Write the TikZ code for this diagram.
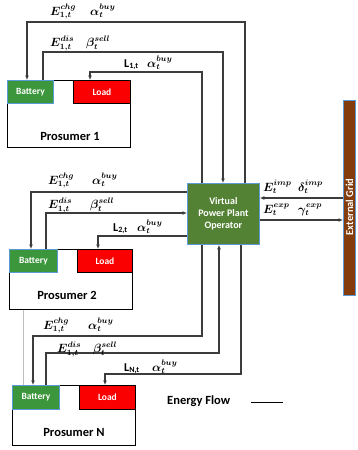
\documentclass[tikz,border=0pt]{standalone}
\usepackage{fontspec}
\setmainfont{Carlito}
\usepackage{amsmath,bm}
\usetikzlibrary{arrows.meta}
\definecolor{battgreen}{RGB}{60,150,60}
\definecolor{loadred}{RGB}{250,0,0}
\definecolor{vppgreen}{RGB}{84,130,53}
\definecolor{gridbrown}{RGB}{132,60,12}
\definecolor{edgeblue}{RGB}{91,155,213}
\definecolor{linegray}{RGB}{60,60,60}
\begin{document}
\begin{tikzpicture}[x=1pt,y=-1pt,
  prosbox/.style={draw=black,line width=1pt,anchor=north west,inner sep=0pt,fill=white},
  battbox/.style={draw=edgeblue,line width=0.8pt,fill=battgreen,anchor=north west,inner sep=0pt,text=white,font=\fontsize{9.5}{10}\selectfont\bfseries},
  loadbox/.style={draw=black,line width=0.8pt,fill=loadred,anchor=north west,inner sep=0pt,text=white,font=\fontsize{9.5}{10}\selectfont\bfseries},
  prosname/.style={font=\fontsize{12.5}{13}\selectfont\bfseries,inner sep=0pt},
  flow/.style={draw=linegray,line width=1.1pt},
  arr/.style={-{Latex[length=4.5pt,width=4pt]}},
  lab/.style={anchor=base west,inner sep=0pt,font=\fontsize{12}{12}\selectfont\boldmath}]
\useasboundingbox (0,0) rectangle (358,450);

% Prosumer boxes
\node[prosbox,minimum width=123pt,minimum height=67pt] (p1) at (7,80) {};
\node[battbox,minimum width=46pt,minimum height=23pt] (b1) at (7,80) {Battery};
\node[loadbox,minimum width=57pt,minimum height=23pt] (l1) at (73,80) {Load};
\node[prosname] (n1) at (70,136) {Prosumer 1};

\node[prosbox,minimum width=123pt,minimum height=60pt] (p2) at (9,249) {};
\node[battbox,minimum width=48pt,minimum height=23pt] (b2) at (9,249) {Battery};
\node[loadbox,minimum width=55pt,minimum height=23pt] (l2) at (77,249) {Load};
\node[prosname] (n2) at (67,295) {Prosumer 2};

\node[prosbox,minimum width=123pt,minimum height=60pt] (pN) at (12,385) {};
\node[battbox,minimum width=47pt,minimum height=24pt] (bN) at (12,385) {Battery};
\node[loadbox,minimum width=56pt,minimum height=24pt] (lN) at (79,385) {Load};
\node[prosname] (nN) at (74,432) {Prosumer N};

% VPP and grid
\node[draw=edgeblue,line width=0.8pt,fill=vppgreen,anchor=north west,inner sep=0pt,
  minimum width=72pt,minimum height=61pt,text=white,align=center,
  font=\fontsize{10}{12}\selectfont\bfseries] (vpp) at (187,183) {Virtual\\Power Plant\\Operator};
\node[draw=edgeblue,line width=0.8pt,fill=gridbrown,anchor=north west,inner sep=0pt,
  minimum width=12pt,minimum height=195pt] (grid) at (343,100) {};
\node[rotate=90,text=white,font=\fontsize{10.5}{11}\selectfont\bfseries,inner sep=0pt] (gridtxt) at (349.5,207) {External Grid};

% bend coordinates
\coordinate (c1a) at (245,22); \coordinate (c1b) at (27,22);
\coordinate (c2a) at (43,52);  \coordinate (c2b) at (223,52);
\coordinate (c3a) at (202,72); \coordinate (c3b) at (90,72);
\coordinate (d1) at (31,192);
\coordinate (d2a) at (46,213);
\coordinate (d3) at (98,236);
\coordinate (e1a) at (202,336); \coordinate (e1b) at (33,336);
\coordinate (e2a) at (46,353);  \coordinate (e2b) at (219,353);
\coordinate (e3a) at (241,374); \coordinate (e3b) at (105,374);
\coordinate (g1) at (0,198); \coordinate (g2) at (0,220);
\coordinate (gl) at (23,0);

% Prosumer 1 flows
\draw[flow,arr] (vpp.north -| c1a) -- (c1a) -- (c1b) -- (b1.north -| c1b);
\draw[flow,arr] (b1.north -| c2a) -- (c2a) -- (c2b) -- (vpp.north -| c2b);
\draw[flow,arr] (vpp.north -| c3a) -- (c3a) -- (c3b) -- (l1.north -| c3b);

% Prosumer 2 flows
\draw[flow,arr] (vpp.west |- d1) -- (d1) -- (b2.north -| d1);
\draw[flow,arr] (b2.north -| d2a) -- (d2a) -- (vpp.west |- d2a);
\draw[flow,arr] (vpp.west |- d3) -- (d3) -- (l2.north -| d3);

% Prosumer N flows
\draw[flow,arr] (vpp.south -| e1a) -- (e1a) -- (e1b) -- (bN.north -| e1b);
\draw[flow,arr] (bN.north -| e2a) -- (e2a) -- (e2b) -- (vpp.south -| e2b);
\draw[flow,arr] (vpp.south -| e3a) -- (e3a) -- (e3b) -- (lN.north -| e3b);

% Grid flows
\draw[flow,arr] (grid.west |- g1) -- (vpp.east |- g1);
\draw[flow,arr] (vpp.east |- g2) -- (grid.west |- g2);

% faint continuation line
\draw[draw=black!25,line width=0.8pt] (p2.south -| gl) -- (pN.north -| gl);

% Labels prosumer 1
\node[lab] (t1a) at (50,15) {$E^{chg}_{1,t}$};
\node[lab] (t1b) at (90,15) {$\bm{\alpha}^{buy}_{t}$};
\node[lab] (t1c) at (50,46) {$E^{dis}_{1,t}$};
\node[lab] (t1d) at (86,46) {$\bm{\beta}^{sell}_{t}$};
\node[lab] (t1e) at (124,67) {\textbf{L}\textsubscript{\textbf{1,t}}};
\node[lab] (t1f) at (147,67) {$\bm{\alpha}^{buy}_{t}$};

% Labels prosumer 2
\node[lab] (t2a) at (48,184) {$E^{chg}_{1,t}$};
\node[lab] (t2b) at (92,184) {$\bm{\alpha}^{buy}_{t}$};
\node[lab] (t2c) at (48,208) {$E^{dis}_{1,t}$};
\node[lab] (t2d) at (90,208) {$\bm{\beta}^{sell}_{t}$};
\node[lab] (t2e) at (113,231) {\textbf{L}\textsubscript{\textbf{2,t}}};
\node[lab] (t2f) at (137,231) {$\bm{\alpha}^{buy}_{t}$};

% Labels grid
\node[lab] (tga) at (263,191) {$E^{imp}_{t}$};
\node[lab] (tgb) at (298,191) {$\bm{\delta}^{imp}_{t}$};
\node[lab] (tgc) at (263,213) {$E^{exp}_{t}$};
\node[lab] (tgd) at (298,213) {$\bm{\gamma}^{exp}_{t}$};

% Labels prosumer N
\node[lab] (tNa) at (43,329) {$E^{chg}_{1,t}$};
\node[lab] (tNb) at (88,329) {$\bm{\alpha}^{buy}_{t}$};
\node[lab] (tNc) at (57,352) {$E^{dis}_{1,t}$};
\node[lab] (tNd) at (93,352) {$\bm{\beta}^{sell}_{t}$};
\node[lab] (tNe) at (124,371) {\textbf{L}\textsubscript{\textbf{N,t}}};
\node[lab] (tNf) at (152,371) {$\bm{\alpha}^{buy}_{t}$};

% Legend
\node[font=\fontsize{12.5}{13}\selectfont\bfseries,anchor=west,inner sep=0pt] (leg) at (167,401) {Energy Flow};
\coordinate (legend1) at (251,402); \coordinate (legend2) at (283,402);
\draw[draw=black,line width=0.8pt] (legend1) -- (legend2);
\end{tikzpicture}
\end{document}
